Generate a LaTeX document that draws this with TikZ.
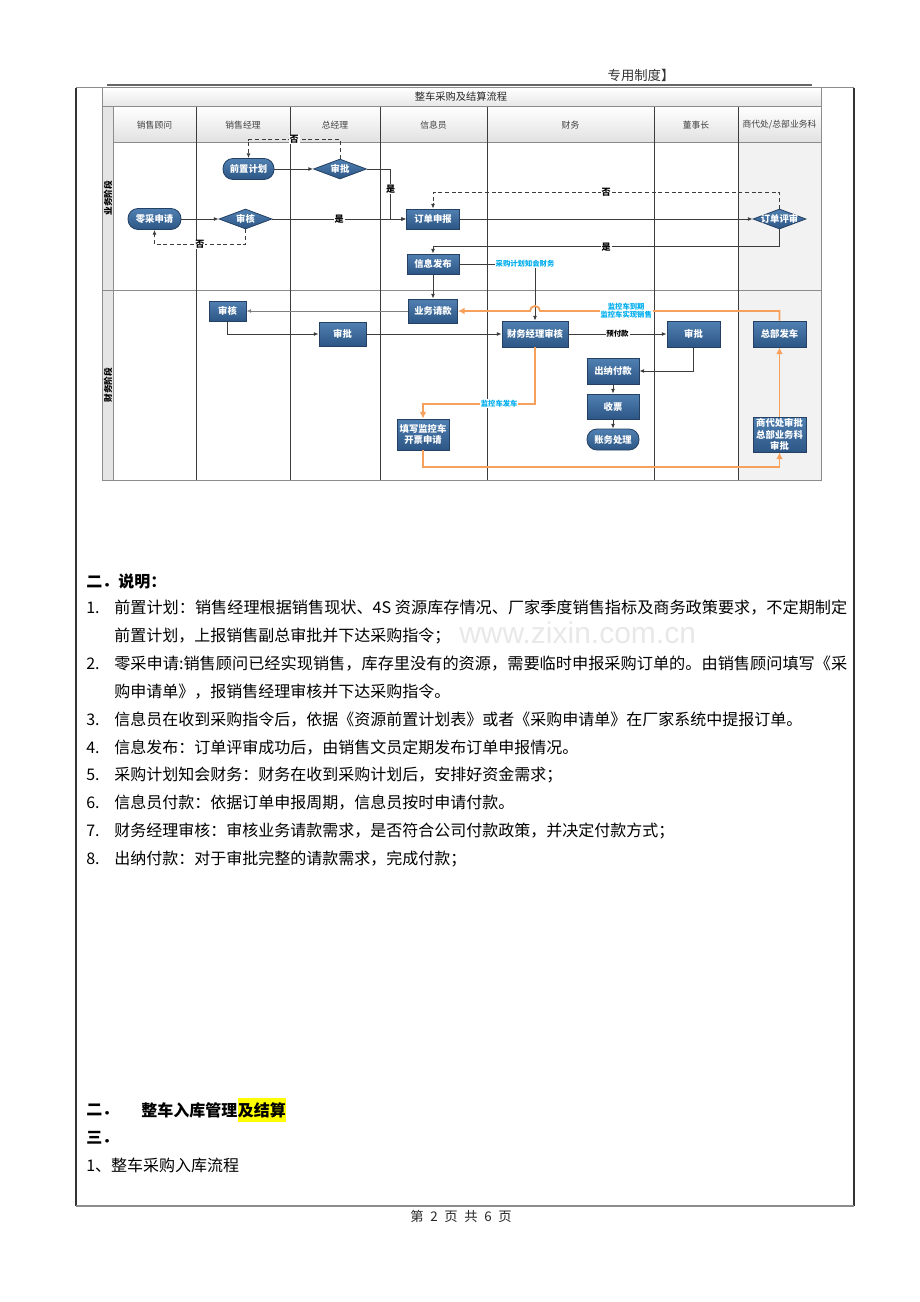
\documentclass[tikz,border=0pt]{standalone}
\usepackage{fontspec}
\usepackage{graphicx}
\setmainfont{Noto Sans CJK SC}
\newfontfamily\wmfont{Liberation Sans}
\usetikzlibrary{shapes.geometric,arrows.meta,positioning}

\definecolor{boxtop}{RGB}{80,128,178}
\definecolor{boxbot}{RGB}{44,86,133}
\definecolor{boxedge}{RGB}{36,64,98}
\definecolor{flowor}{RGB}{246,160,92}
\definecolor{notecyan}{RGB}{0,174,239}
\definecolor{laneline}{RGB}{60,60,60}
\definecolor{hilite}{RGB}{255,255,0}

\newcommand\fullline[1]{\resizebox{549.75pt}{\height}{#1}}

\tikzset{
  proc/.style 2 args={rectangle, draw=boxedge, line width=0.6pt, top color=boxtop, bottom color=boxbot,
    text=white, font=\fontsize{7}{8.5}\selectfont\bfseries, align=center, inner sep=0.5pt,
    minimum width=#1*0.75pt, minimum height=#2*0.75pt},
  term/.style 2 args={proc={#1}{#2}, rounded corners=7.5pt},
  decide/.style={diamond, draw=boxedge, line width=0.6pt, top color=boxtop, bottom color=boxbot,
    inner sep=0pt, minimum width=53*0.75pt, minimum height=20*0.75pt},
  dtext/.style={text=white, font=\fontsize{7}{8.5}\selectfont\bfseries},
  flow/.style={draw=laneline, line width=0.7pt, -{Latex[length=3.5pt,width=3pt]}},
  noflow/.style={flow, dash pattern=on 3pt off 2pt},
  oflow/.style={draw=flowor, line width=1.4pt, -{Latex[length=5pt,width=5pt]}},
  tag/.style={font=\fontsize{6.8}{7}\selectfont\bfseries, fill=white, inner sep=0.6pt},
  note/.style={text=notecyan, font=\fontsize{5.5}{6}\selectfont\bfseries, fill=white, inner sep=0.5pt, align=center},
  colhead/.style={font=\fontsize{6.6}{7}\selectfont, text=black!75},
  lanehead/.style={font=\fontsize{6.5}{7}\selectfont\bfseries, rotate=90},
  body/.style={anchor=west, inner sep=0pt, font=\fontsize{12}{14}\selectfont},
  bodyb/.style={body, font=\fontsize{12}{14}\selectfont\bfseries},
}

\begin{document}
\begin{tikzpicture}[x=0.75pt, y=-0.75pt]
  \useasboundingbox (0,0) rectangle (920,1302);

  % page frame
  \node[font=\fontsize{10}{12}\selectfont, text=black!80] (doctitle) at (641,75) {专用制度】};
  \draw[black!60, line width=1.5pt] (107,85.5) -- (812,85.5);
  \draw[black!45, line width=0.75pt] (76,88) -- (854,88);
  \draw[black!80, line width=0.9pt] (76,88) -- (76,1206);
  \draw[black!80, line width=0.9pt] (854,88) -- (854,1206);
  \draw[black!45, line width=1.3pt] (76,1206) -- (854,1206);

  % swimlane table
  \shade[top color=white, bottom color=black!10] (102,88) rectangle (821,107);
  \shade[top color=white, bottom color=black!12] (113,107) rectangle (821,143);
  \fill[black!10] (102,107) rectangle (113,480);
  \fill[black!5] (738,143) rectangle (821,480);
  \draw[black!45, line width=0.75pt] (102,88) rectangle (821,480);
  \draw[black!45, line width=0.75pt] (102,107) -- (821,107);
  \draw[black!45, line width=0.75pt] (113,107) -- (113,480);
  \draw[black!45, line width=0.75pt] (113,143) -- (821,143);
  \draw[black!45, line width=0.75pt] (102,290) -- (821,290);
  \foreach \cx in {196,290,380,487,654,738}
    \draw[laneline, line width=0.7pt] (\cx,107) -- (\cx,480);

  \node[font=\fontsize{7.7}{8}\selectfont, text=black!85] (chart) at (461,97) {整车采购及结算流程};
  \node[colhead] (h1) at (154.5,125) {销售顾问};
  \node[colhead] (h2) at (243,125) {销售经理};
  \node[colhead] (h3) at (335,125) {总经理};
  \node[colhead] (h4) at (433.5,125) {信息员};
  \node[colhead] (h5) at (570.5,125) {财务};
  \node[colhead] (h6) at (696,125) {董事长};
  \node[colhead] (h7) at (779.5,125) {商代处/总部业务科};
  \node[lanehead] (ph1) at (108,198) {业务阶段};
  \node[lanehead] (ph2) at (108,385) {财务阶段};

  % business phase
  \node[term={51}{21}] (plan) at (248.5,169) {前置计划};
  \node[decide, label={[dtext]center:审批}] (gmok) at (340,169) {};
  \node[term={53}{21}] (retail) at (154.5,219) {零采申请};
  \node[decide, label={[dtext]center:审核}] (smok) at (245.5,219) {};
  \node[proc={53}{20}] (order) at (433,219) {订单申报};
  \node[proc={52}{20}] (pub) at (433,264) {信息发布};
  \node[decide, label={[dtext]center:订单评审}] (review) at (779.5,219) {};

  % finance phase
  \node[proc={49}{24}] (req) at (433,311) {业务请款};
  \node[proc={37}{20}] (mcheck) at (227.5,311) {审核};
  \node[proc={47}{24}] (gapp) at (342.5,334) {审批};
  \node[proc={66}{26}] (fmgr) at (535,334) {财务经理审核};
  \node[proc={53}{26}] (bapp) at (693.5,334) {审批};
  \node[proc={52}{26}] (cash) at (613,371) {出纳付款};
  \node[proc={52}{25}] (inv) at (613,406.5) {收票};
  \node[term={52}{21}] (acct) at (613,439.5) {账务处理};
  \node[proc={53}{26}] (ship) at (779.5,334) {总部发车};
  \node[proc={53}{35}] (hq) at (779.5,434.5) {商代处审批\\总部业务科\\审批};
  \node[proc={52}{31}] (fillin) at (423,434.5) {填写监控车\\开票申请};

  % connectors
  \draw[flow] (plan) -- (gmok);
  \draw[noflow] (gmok.north) -- ++(0,-19) -| (plan.north) node[tag, pos=0.25] {否};
  \draw[flow] (gmok.east) -| node[tag, pos=0.7] {是} ([xshift=-11.6pt]order.west) -- (order.west);
  \draw[flow] (retail) -- (smok);
  \draw[flow] (smok) -- (order) node[tag, midway] {是};
  \draw[noflow] (smok.south) -- ++(0,15) -| (retail.south) node[tag, pos=0.25] {否};
  \draw[flow] (order) -- (review);
  \draw[noflow] (review.north) -- ++(0,-16) -| (order.north) node[tag, pos=0.25] {否};
  \draw[flow] (review.south) -- ++(0,17.5) -| (pub.north) node[tag, pos=0.25] {是};
  \draw[flow] (pub.east) -| node[note, pos=0.5, xshift=-7.5pt] {采购计划知会财务} (fmgr.north);
  \draw[flow] (pub) -- (req);
  \draw[flow, draw=black!50] (req.west) -- (mcheck.east);
  \draw[flow] (mcheck.south) |- (gapp.west);
  \draw[flow] (gapp) -- (fmgr);
  \draw[flow] (fmgr) -- (bapp) node[tag, midway, font=\fontsize{5.6}{6}\selectfont\bfseries] {预付款};
  \draw[flow] (bapp.south) |- (cash.east);
  \draw[flow] (cash) -- (inv);
  \draw[flow] (inv) -- (acct);

  \draw[oflow] (ship.north) |- node[note, pos=0.82] {监控车到期\\监控车实现销售} ([xshift=3.75pt]fmgr.north |- req.east)
    arc[start angle=0, end angle=180, radius=3.75pt] -- (req.east);
  \draw[oflow] (fmgr.south) |- node[note, pos=0.66] {监控车发车} ([yshift=11.25pt]fillin.north) -- (fillin.north);
  \draw[oflow] (fillin.south) -- ++(0,17) -| (hq.south);
  \draw[oflow] (hq) -- (ship);

  % notes
  \node[text=black!9, font=\wmfont\fontsize{22.5}{24}\selectfont, anchor=west, inner sep=0pt] (wm) at (459,633) {www.zixin.com.cn};
  \node[bodyb] (sec) at (86,581) {二．说明：};
  \node[body] (n1) at (86,608) {1.};
  \node[body] (t1) at (114,608) {\fullline{前置计划：销售经理根据销售现状、4S 资源库存情况、厂家季度销售指标及商务政策要求，不定期制定}};
  \node[body] (t1b) at (114,636) {前置计划，上报销售副总审批并下达采购指令；};
  \node[body] (n2) at (86,664) {2.};
  \node[body] (t2) at (114,664) {\fullline{零采申请:销售顾问已经实现销售，库存里没有的资源，需要临时申报采购订单的。由销售顾问填写《采}};
  \node[body] (t2b) at (114,692) {购申请单》，报销售经理审核并下达采购指令。};
  \node[body] (n3) at (86,720) {3.};
  \node[body] (t3) at (114,720) {信息员在收到采购指令后，依据《资源前置计划表》或者《采购申请单》在厂家系统中提报订单。};
  \node[body] (n4) at (86,748) {4.};
  \node[body] (t4) at (114,748) {信息发布：订单评审成功后，由销售文员定期发布订单申报情况。};
  \node[body] (n5) at (86,775) {5.};
  \node[body] (t5) at (114,775) {采购计划知会财务：财务在收到采购计划后，安排好资金需求；};
  \node[body] (n6) at (86,803) {6.};
  \node[body] (t6) at (114,803) {信息员付款：依据订单申报周期，信息员按时申请付款。};
  \node[body] (n7) at (86,831) {7.};
  \node[body] (t7) at (114,831) {财务经理审核：审核业务请款需求，是否符合公司付款政策，并决定付款方式；};
  \node[body] (n8) at (86,859) {8.};
  \node[body] (t8) at (114,859) {出纳付款：对于审批完整的请款需求，完成付款；};

  \node[bodyb] (sec2) at (86,1110) {二．};
  \node[bodyb] (topic) at (141,1110) {整车入库管理};
  \node[bodyb, fill=hilite, inner ysep=3.5pt, right=0pt of topic] (topichl) {及结算};
  \node[bodyb] (sec3) at (86,1138) {三．};
  \node[body] (flowtitle) at (86,1165) {1、整车采购入库流程};
  \node[font=\fontsize{10}{11}\selectfont, text=black!85] (folio) at (461,1216)
    {第\hspace{0.5em}2\hspace{0.5em}页\hspace{0.5em}共\hspace{0.5em}6\hspace{0.5em}页};
\end{tikzpicture}
\end{document}
